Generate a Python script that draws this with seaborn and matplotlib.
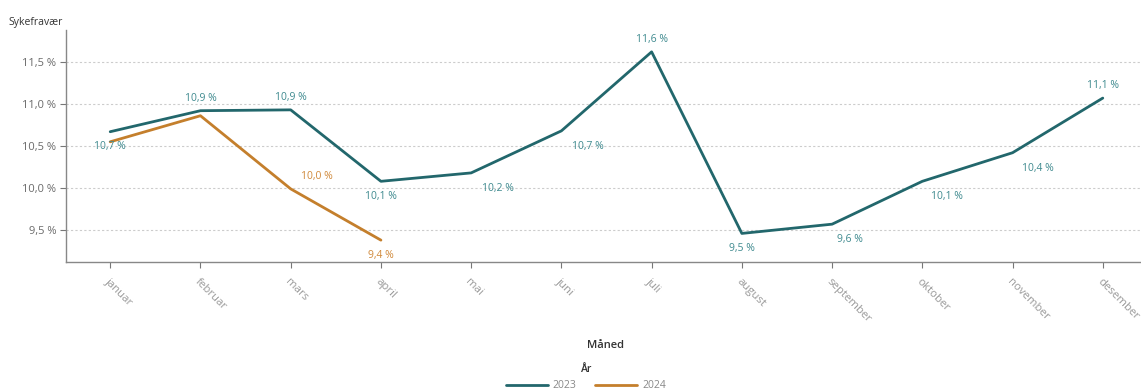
import matplotlib
matplotlib.use("Agg")
import matplotlib.pyplot as plt
import seaborn as sns
import pandas as pd
from matplotlib.ticker import FuncFormatter
from matplotlib.lines import Line2D

months = ["januar", "februar", "mars", "april", "mai", "juni", "juli",
          "august", "september", "oktober", "november", "desember"]
values_2023 = [10.67, 10.92, 10.93, 10.08, 10.18, 10.68, 11.62, 9.46, 9.57, 10.08, 10.42, 11.07]
values_2024 = [10.55, 10.86, 9.99, 9.38]
years = ["2023", "2024"]

rows = []
for i, v in enumerate(values_2023):
    rows.append({"Måned": months[i], "idx": i, "Sykefravær": v, "År": years[0]})
for i, v in enumerate(values_2024):
    rows.append({"Måned": months[i], "idx": i, "Sykefravær": v, "År": years[1]})
df = pd.DataFrame(rows)

sns.set_theme(style="white")
plt.rcParams["font.family"] = ["Open Sans", "DejaVu Sans"]

teal = "#22676c"
orange = "#c47f2c"
teal_lbl = "#3f8a8f"
orange_lbl = "#d0893a"

fig = plt.figure(figsize=(11.41, 3.92), dpi=100)
ax = fig.add_axes([66 / 1141, 1 - 262 / 392, 1 - 66 / 1141 + 0.01, (262 - 30) / 392])

sns.lineplot(data=df, x="idx", y="Sykefravær", hue="År", palette=[teal, orange],
             linewidth=2, ax=ax, legend=False, sort=False)

ax.set_xlim(-0.49, 11.55)
ax.set_ylim(9.12, 11.88)
ax.set_yticks([9.5, 10.0, 10.5, 11.0, 11.5])
ax.yaxis.set_major_formatter(FuncFormatter(lambda v, p: f"{v:.1f} %".replace(".", ",")))
ax.set_xticks(range(12))
ax.set_xticklabels(months, rotation=-45, ha="left", rotation_mode="anchor")
ax.tick_params(axis="x", labelsize=8.2, length=4, width=0.8, pad=6)
ax.tick_params(axis="y", labelsize=8, length=4, width=0.8, pad=3)
for lbl in ax.get_xticklabels():
    lbl.set_color("#9a9a9a")
for lbl in ax.get_yticklabels():
    lbl.set_color("#6a6a6a")
ax.tick_params(axis="both", which="both", bottom=True, left=True)
ax.xaxis.set_tick_params(color="#777777")
ax.yaxis.set_tick_params(color="#777777")

ax.grid(axis="y", color="#cccccc", linestyle=(0, (2, 2)), linewidth=0.8)
ax.set_axisbelow(True)
for s in ["top", "right"]:
    ax.spines[s].set_visible(False)
for s in ["left", "bottom"]:
    ax.spines[s].set_color("#888888")
    ax.spines[s].set_linewidth(1.0)

ax.set_xlabel("")
ax.set_ylabel("")

# data labels (offsets in points: dx, dy)
pos_2023 = [(0, -11), (0, 9), (0, 9), (0, -11), (19, -11), (19, -11), (0, 9),
            (0, -11), (13, -11), (18, -11), (18, -11), (0, 9)]
pos_2024 = [(0, -11), (0, 9), (19, 9), (0, -11)]
for i, v in enumerate(values_2023):
    dx, dy = pos_2023[i]
    ax.annotate(f"{v:.1f} %".replace(".", ","), (i, v), xytext=(dx, dy),
                textcoords="offset points", ha="center", va="center",
                fontsize=7.5, color=teal_lbl)
for i, v in enumerate(values_2024):
    if i in (0, 1):
        continue
    dx, dy = pos_2024[i]
    ax.annotate(f"{v:.1f} %".replace(".", ","), (i, v), xytext=(dx, dy),
                textcoords="offset points", ha="center", va="center",
                fontsize=7.5, color=orange_lbl)

fig.text(8 / 1141, 1 - 22 / 392, "Sykefravær", fontsize=7.5, color="#333333",
         ha="left", va="center")
fig.text(606 / 1141, 1 - 345 / 392, "Måned", fontsize=8, color="#333333",
         ha="center", va="center", fontweight="semibold")
fig.text(587 / 1141, 1 - 370 / 392, "År", fontsize=7.5, color="#333333",
         ha="center", va="center", fontweight="semibold")

handles = [Line2D([], [], color=teal, lw=2), Line2D([], [], color=orange, lw=2)]
fig.legend(handles, years, loc="center", bbox_to_anchor=(586 / 1141, 1 - 386 / 392),
           ncol=2, frameon=False, fontsize=7.5, handlelength=4, columnspacing=1.8,
           handletextpad=0.5, labelcolor="#888888", borderaxespad=0, borderpad=0)

fig.savefig("out.png", dpi=100)
